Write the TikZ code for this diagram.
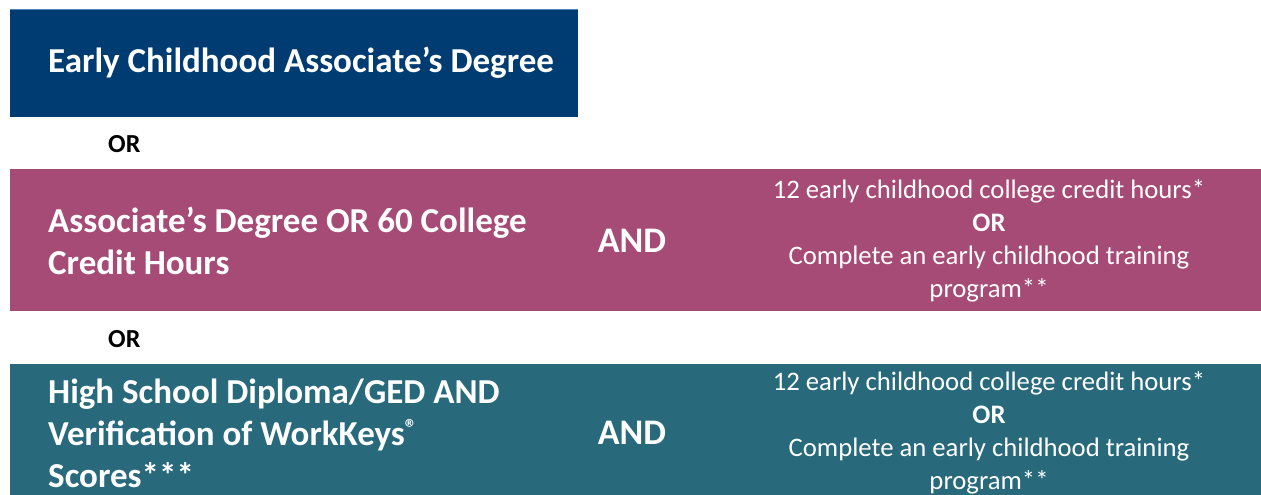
\documentclass[tikz,border=0pt]{standalone}
\usepackage{fontspec}
\setmainfont{Carlito}
\usetikzlibrary{positioning}
\definecolor{degreecolor}{RGB}{0, 60, 113}
\definecolor{edgecolor}{RGB}{80, 130, 185}
\definecolor{creditcolor}{RGB}{166, 75, 117}
\definecolor{diplomacolor}{RGB}{40, 106, 124}

\begin{document}
\begin{tikzpicture}[
        x=1pt, y=-1pt,
        band/.style={rectangle, draw=none, anchor=north west, inner sep=0pt},
        title/.style={anchor=west, inner sep=0pt, text=white, align=left, font=\fontsize{35}{42}\selectfont\bfseries},
        andtext/.style={anchor=center, inner sep=0pt, text=white, font=\fontsize{36}{40}\selectfont\bfseries},
        option/.style={anchor=center, inner sep=0pt, text=white, align=center, font=\fontsize{26.7}{33}\selectfont},
        ortext/.style={anchor=west, inner sep=0pt, font=\fontsize{26}{28}\selectfont\bfseries}
    ]
        \useasboundingbox (0,0) rectangle (1261,495);

        % Early childhood degree
        \node[band, fill=degreecolor, minimum width=568pt, minimum height=107pt] (degree) at (10,10) {};
        \draw[edgecolor, line width=1pt] (degree.north west) -- (degree.north east);
        \node[title] (degreetext) at (48,63) {Early Childhood Associate’s Degree};

        \node[ortext] (or1) at (108,144) {OR};

        % Associate's degree or credit hours
        \node[band, fill=creditcolor, minimum width=1251pt, minimum height=142pt] (credit) at (10,169) {};
        \node[title] (credittext) at (48,241) {Associate’s Degree OR 60 College\\Credit Hours};
        \node[andtext] (and1) at (632,241) {AND};
        \node[option] (option1) at (989,241) {12 early childhood college credit hours*\\\textbf{OR}\\Complete an early childhood training\\program**};

        \node[ortext] (or2) at (108,339) {OR};

        % High school diploma and WorkKeys
        \node[band, fill=diplomacolor, minimum width=1251pt, minimum height=131pt] (diploma) at (10,364) {};
        \node[title] (diplomatext) at (48,433) {High School Diploma/GED AND\\Verification of WorkKeys\textsuperscript{®}\\Scores***};
        \node[andtext] (and2) at (632,433) {AND};
        \node[option] (option2) at (989,433) {12 early childhood college credit hours*\\\textbf{OR}\\Complete an early childhood training\\program**};

    \end{tikzpicture}
\end{document}
